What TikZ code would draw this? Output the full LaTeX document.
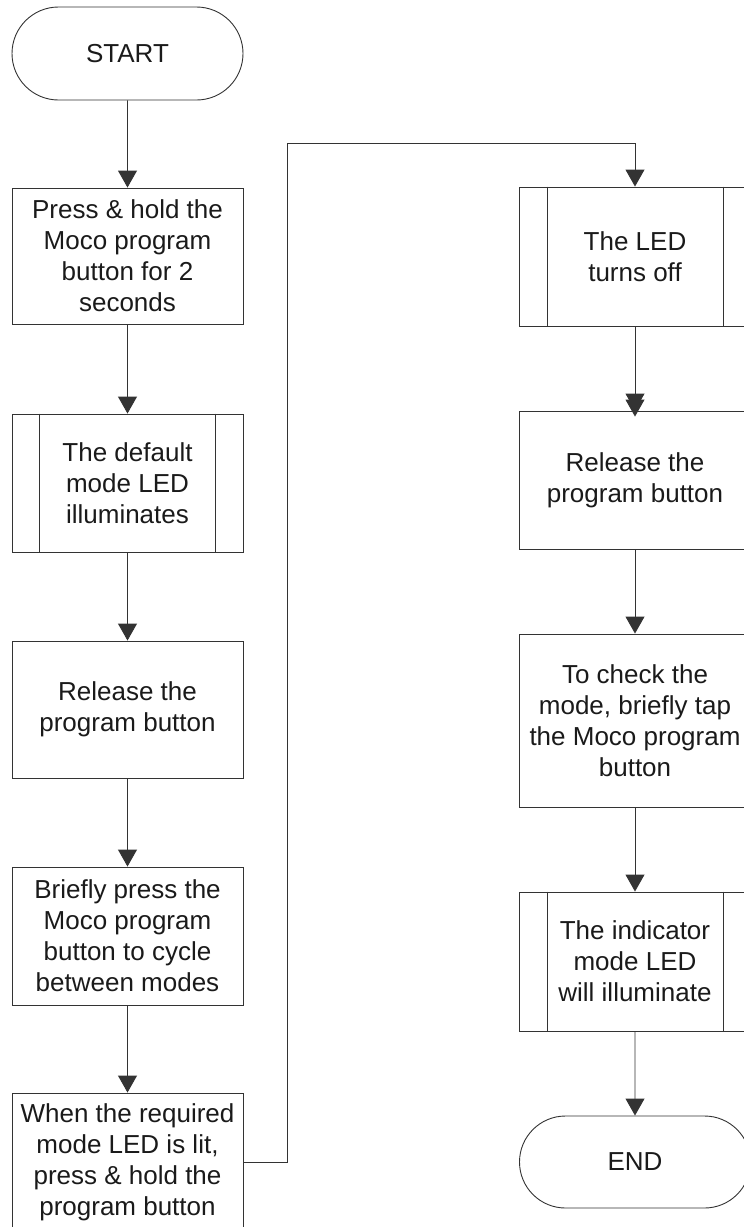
\documentclass[tikz,border=0pt]{standalone}
\usepackage{fontspec}
\setmainfont{Liberation Sans}
\usetikzlibrary{arrows.meta,shapes.misc}
\definecolor{linec}{HTML}{333333}
\definecolor{textc}{HTML}{1A1A1A}
\begin{document}
\begin{tikzpicture}[x=1pt,y=-1pt,
  every node/.style={font=\fontsize{26}{31}\selectfont, text=textc, align=center, inner sep=0pt},
  procbox/.style={draw=linec, line width=0.9pt, rectangle, minimum width=231pt},
  termbox/.style={draw=linec, line width=0.9pt, rounded rectangle, rounded rectangle arc length=180, minimum width=231pt, minimum height=92pt},
  flow/.style={draw=linec, line width=0.9pt, -{Triangle[width=19pt,length=17pt]}},
  plain/.style={draw=linec, line width=0.9pt}
]
\useasboundingbox (0,0) rectangle (744,1227);

% left column
\node[termbox, minimum height=93pt] (start) at (127.5,53.5) {START};
\node[procbox, minimum height=136pt] (b1) at (127.5,256) {Press \& hold the\\Moco program\\button for 2\\seconds};
\node[procbox, minimum height=138pt] (b2) at (127.5,483) {The default\\mode LED\\illuminates};
\node[procbox, minimum height=137pt] (b3) at (127.5,709.5) {Release the\\program button};
\node[procbox, minimum height=138pt] (b4) at (127.5,936) {Briefly press the\\Moco program\\button to cycle\\between modes};
\node[procbox, minimum height=138pt] (b5) at (127.5,1162) {When the required\\mode LED is lit,\\press \& hold the\\program button};

% right column
\node[procbox, minimum height=139pt] (r1) at (635,256.5) {The LED\\turns off};
\node[procbox, minimum height=138pt] (r2) at (635,480) {Release the\\program button};
\node[procbox, minimum height=173pt] (r3) at (635,720.5) {To check the\\mode, briefly tap\\the Moco program\\button};
\node[procbox, minimum height=139pt] (r4) at (635,961.5) {The indicator\\mode LED\\will illuminate};
\node[termbox] (end) at (635,1162) {END};

% predefined-process side bars
\foreach \n in {b2,r1,r4}{
  \draw[plain] ([xshift=28pt]\n.north west) -- ([xshift=28pt]\n.south west);
  \draw[plain] ([xshift=-28pt]\n.north east) -- ([xshift=-28pt]\n.south east);
}

% connectors
\draw[flow] (start) -- (b1);
\draw[flow] (b1) -- (b2);
\draw[flow] (b2) -- (b3);
\draw[flow] (b3) -- (b4);
\draw[flow] (b4) -- (b5);
\coordinate (up) at (287,143);
\draw[flow] (b5.east) -| (up) -| (r1.north);
\coordinate (r2hi) at ([yshift=-6pt]r2.north);
\draw[flow] (r1) -- (r2hi);
\draw[flow] (r1) -- (r2);
\draw[flow] (r2) -- (r3);
\draw[flow] (r3) -- (r4);
\draw[flow] (r4) -- (end);
\end{tikzpicture}
\end{document}
